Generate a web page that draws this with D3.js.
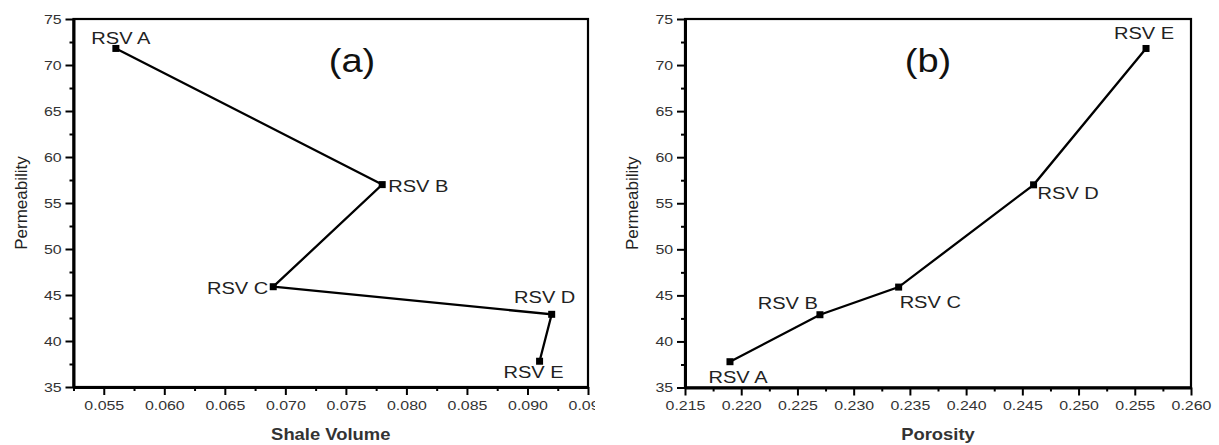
<!DOCTYPE html>
<html>
<head>
<meta charset="utf-8">
<script src="https://cdn.jsdelivr.net/npm/d3@7"></script>
<style>
  body { margin: 0; background: #fff; }
  svg { display: block; font-family: "Liberation Sans", Arial, sans-serif; }
  .axis path, .axis line { stroke: #000; }
  .axis text { fill: #333; font-size: 13.5px; }
</style>
</head>
<body>
<svg id="chart" width="1219" height="445"></svg>
<script>
// data
const wells = ['RSV A', 'RSV B', 'RSV C', 'RSV D', 'RSV E'];
const shaleVolume = [0.056, 0.078, 0.069, 0.092, 0.091];
const permeabilityA = [71.8, 57.0, 45.9, 42.9, 37.8];
const porosity = [0.219, 0.227, 0.234, 0.246, 0.256];
const permeabilityB = [37.8, 42.9, 45.9, 57.0, 71.8];

const yTicks = [35, 40, 45, 50, 55, 60, 65, 70, 75];
const xTicksA = [0.055, 0.060, 0.065, 0.070, 0.075, 0.080, 0.085, 0.090, 0.095];
const xTicksB = [0.215, 0.220, 0.225, 0.230, 0.235, 0.240, 0.245, 0.250, 0.255, 0.260];

const svg = d3.select('#chart');
const SX = 1.18; // text in the source is a bit wide

const panels = [
  {
    tag: '(a)', xTitle: 'Shale Volume', xs: shaleVolume, ys: permeabilityA,
    xDomain: [0.0525, 0.095], xTicks: xTicksA,
    left: 73.5, right: 588, top: 19, bottom: 387,
    tagX: 352, clipW: 595,
    // label placement: [anchor, dx, dy]
    labelPos: [['middle', 5, -4], ['start', 6, 7], ['end', -5, 7], ['middle', -7, -11], ['middle', -6, 17]]
  },
  {
    tag: '(b)', xTitle: 'Porosity', xs: porosity, ys: permeabilityB,
    xDomain: [0.215, 0.26], xTicks: xTicksB,
    left: 685, right: 1191, top: 19, bottom: 387.5,
    tagX: 928, clipW: null,
    labelPos: [['middle', 8, 21], ['end', -2, -6], ['start', 1, 21], ['start', 4, 14], ['middle', -2, -9]]
  }
];

const minorsOf = (ticks) => {
  let step = ticks[1] - ticks[0];
  let out = [];
  ticks.forEach(t => out.push(t - step / 2));
  return out;
};

panels.forEach((p, i) => {
  let g = svg.append('g');

  if (p.clipW) {
    svg.append('clipPath').attr('id', 'clip' + i)
      .append('rect').attr('x', 0).attr('y', 0).attr('width', p.clipW).attr('height', 445);
    g.attr('clip-path', `url(#clip${i})`);
  }

  let x = d3.scaleLinear().domain(p.xDomain).range([p.left, p.right]);
  let y = d3.scaleLinear().domain([35, 75]).range([p.bottom, p.top]);

  // frame
  g.append('rect')
    .attr('x', p.left).attr('y', p.top)
    .attr('width', p.right - p.left).attr('height', p.bottom - p.top)
    .attr('fill', 'none').attr('stroke', '#000').attr('stroke-width', 2.2);

  // minor ticks
  g.append('g').attr('class', 'axis')
    .attr('transform', `translate(0,${p.bottom})`)
    .call(d3.axisBottom(x).tickValues(minorsOf(p.xTicks).filter(v => v > p.xDomain[0])).tickSize(4).tickSizeOuter(0).tickFormat(''))
    .call(a => a.select('.domain').remove())
    .selectAll('line').attr('stroke-width', 2);

  g.append('g').attr('class', 'axis')
    .attr('transform', `translate(${p.left},0)`)
    .call(d3.axisLeft(y).tickValues(minorsOf(yTicks).filter(v => v > 35)).tickSize(4).tickSizeOuter(0).tickFormat(''))
    .call(a => a.select('.domain').remove())
    .selectAll('line').attr('stroke-width', 2);

  // main axes
  let xa = g.append('g').attr('class', 'axis')
    .attr('transform', `translate(0,${p.bottom})`)
    .call(d3.axisBottom(x).tickValues(p.xTicks).tickSize(8).tickPadding(5).tickSizeOuter(0).tickFormat(d3.format('.3f')));
  xa.select('.domain').attr('stroke-width', 3);
  xa.selectAll('line').attr('stroke-width', 2);
  xa.selectAll('text').attr('transform', `scale(${SX},1)`);

  let ya = g.append('g').attr('class', 'axis')
    .attr('transform', `translate(${p.left},0)`)
    .call(d3.axisLeft(y).tickValues(yTicks).tickSize(8).tickSizeOuter(0));
  ya.select('.domain').attr('stroke-width', 3);
  ya.selectAll('line').attr('stroke-width', 2);
  ya.selectAll('text').attr('x', -10).attr('transform', `scale(${SX},1)`);

  // line + markers
  let pts = p.xs.map((v, k) => [v, p.ys[k]]);
  g.append('path')
    .datum(pts)
    .attr('fill', 'none').attr('stroke', '#000').attr('stroke-width', 2.3)
    .attr('d', d3.line().x(d => x(d[0])).y(d => y(d[1])));

  g.selectAll('.pt').data(pts).enter().append('rect')
    .attr('class', 'pt')
    .attr('x', d => x(d[0]) - 3.5).attr('y', d => y(d[1]) - 3.5)
    .attr('width', 7).attr('height', 7).attr('fill', '#000');

  // well labels
  g.selectAll('.lbl').data(pts).enter().append('text')
    .attr('class', 'lbl')
    .attr('text-anchor', (d, k) => p.labelPos[k][0])
    .attr('transform', (d, k) => `translate(${x(d[0]) + p.labelPos[k][1]},${y(d[1]) + p.labelPos[k][2]}) scale(1.18,1)`)
    .attr('font-size', 17).attr('fill', '#222')
    .text((d, k) => wells[k]);

  // panel tag
  g.append('text')
    .attr('transform', `translate(${p.tagX},72) scale(1.12,1)`)
    .attr('text-anchor', 'middle').attr('font-size', 34).attr('fill', '#111')
    .text(p.tag);

  // axis titles
  g.append('text')
    .attr('transform', `translate(${(p.left + p.right) / 2},440) scale(1.15,1)`)
    .attr('text-anchor', 'middle').attr('font-size', 16).attr('font-weight', 'bold').attr('fill', '#333')
    .text(p.xTitle);

  g.append('text')
    .attr('transform', `translate(${p.left - 47},${(p.top + p.bottom) / 2}) rotate(-90)`)
    .attr('text-anchor', 'middle').attr('font-size', 17).attr('fill', '#222')
    .text('Permeability');
});
</script>
</body>
</html>
